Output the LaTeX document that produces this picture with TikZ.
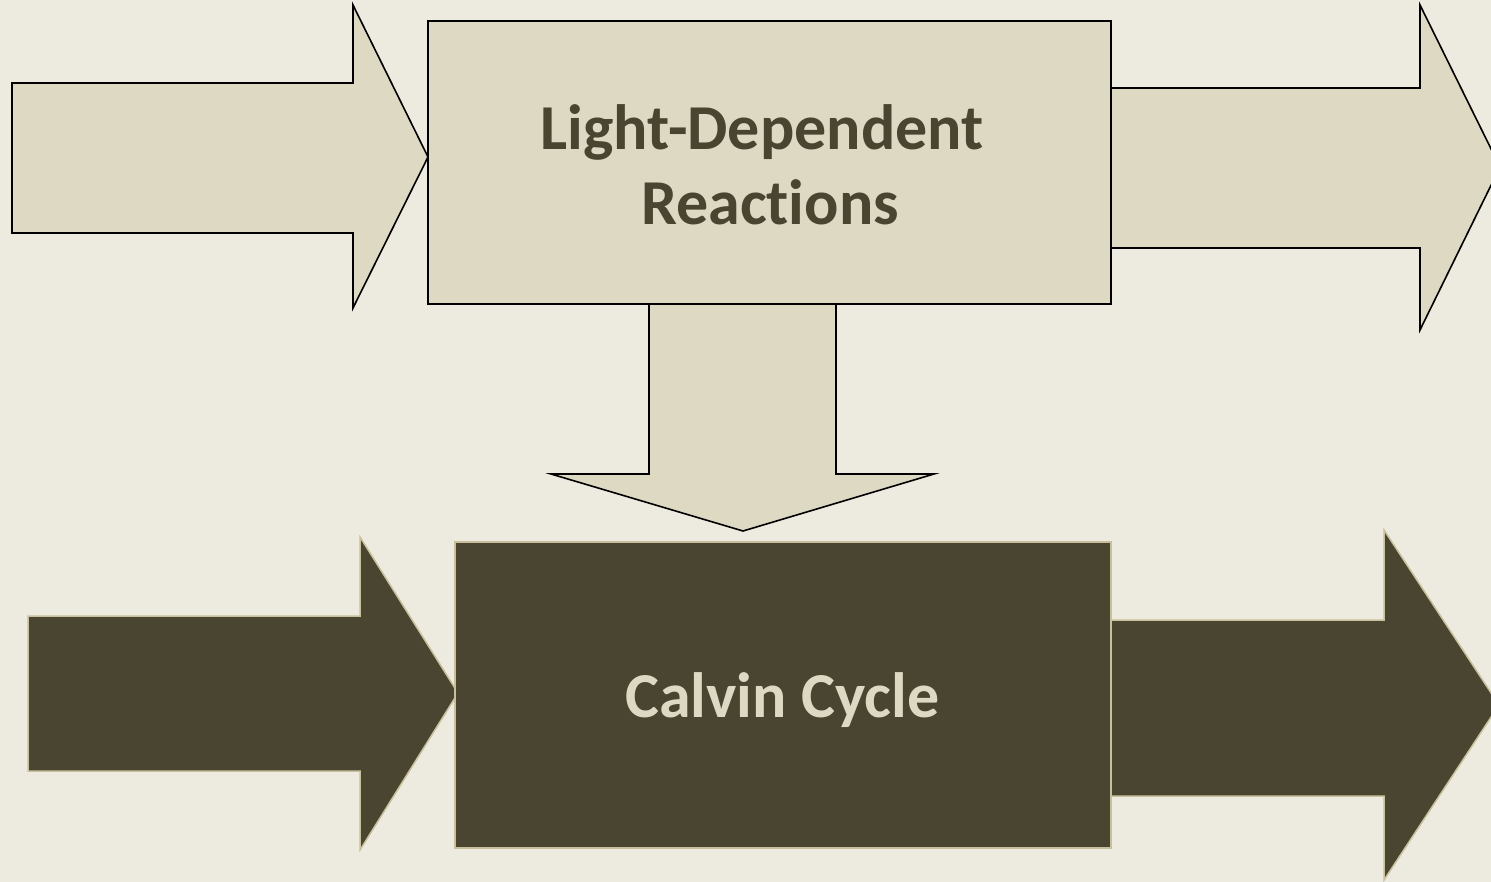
\documentclass[tikz,border=0pt]{standalone}
\usepackage{fontspec}
\setmainfont{Carlito}[Ligatures={NoCommon}]
\definecolor{bg}{HTML}{EDEBE0}
\definecolor{lightfill}{HTML}{DED9C3}
\definecolor{darkfill}{HTML}{4A4530}
\definecolor{darkedge}{HTML}{C8C09C}
\begin{document}
\begin{tikzpicture}[x=1pt,y=-1pt,
  lightshape/.style={fill=lightfill,draw=black,line width=1.6pt,line join=miter},
  darkshape/.style={fill=darkfill,draw=darkedge,line width=1.5pt,line join=miter},
  boxtext/.style={font=\bfseries\fontsize{64}{75}\selectfont,align=center,inner sep=0pt}]
\useasboundingbox (0,0) rectangle (1491,882);
\clip (0,0) rectangle (1491,882);
\fill[bg] (0,0) rectangle (1491,882);
% top row arrows
\draw[lightshape] (12,83) -- (353,83) -- (353,5) -- (428,157) -- (353,308) -- (353,233) -- (12,233) -- cycle;
\draw[lightshape] (1111,88) -- (1420,88) -- (1420,5) -- (1500,167) -- (1420,330) -- (1420,248) -- (1111,248) -- cycle;
% down arrow
\draw[lightshape] (649,304) -- (649,474) -- (551,474) -- (743,531) -- (934,474) -- (836,474) -- (836,304) -- cycle;
% top box
\node[lightshape,minimum width=683pt,minimum height=283pt,inner sep=0pt] (ldr) at (769.5,162.5) {};
\node[boxtext,text=darkfill] (ldrtext) at (770,165) {Light-Dependent\kern16pt\\Reactions};
% bottom row arrows
\draw[darkshape] (28,616) -- (360,616) -- (360,537) -- (458,693) -- (360,850) -- (360,771) -- (28,771) -- cycle;
\draw[darkshape] (1111,620) -- (1384,620) -- (1384,530) -- (1499,705) -- (1384,880) -- (1384,796) -- (1111,796) -- cycle;
% bottom box
\node[darkshape,minimum width=656pt,minimum height=306pt,inner sep=0pt] (calvin) at (783,695) {};
\node[boxtext,text=lightfill] (calvintext) at (782.5,700) {Calvin Cycle};
\end{tikzpicture}
\end{document}
